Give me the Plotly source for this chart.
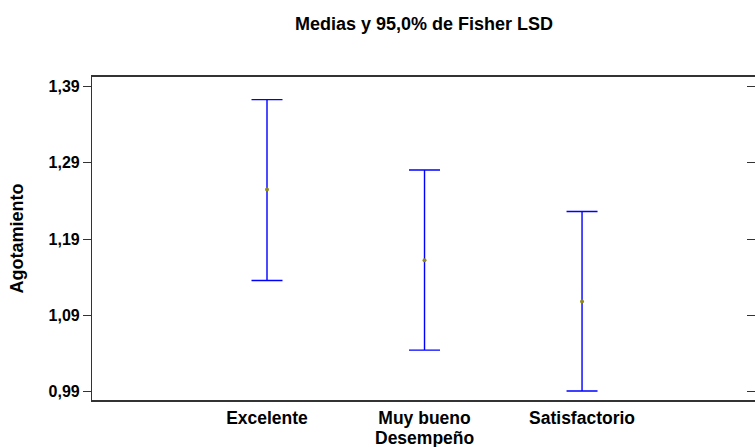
import plotly.graph_objects as go

categories = ["Excelente", "Muy bueno", "Satisfactorio"]
means = [1.2548, 1.1622, 1.1082]
lower = [1.1357, 1.0444, 0.9908]
upper = [1.3726, 1.2804, 1.2260]
y_ticks = [0.99, 1.09, 1.19, 1.29, 1.39]

title_text = "Medias y 95,0% de Fisher LSD"
x_title = "Desempeño"
y_title = "Agotamiento"

FONT = "Arial, 'Liberation Sans', sans-serif"
W, H = 755, 447
L, R, T, B = 92, 0, 77, 47
plot_h = H - T - B

err_plus = [u - m for u, m in zip(upper, means)]
err_minus = [m - l for m, l in zip(means, lower)]

fig = go.Figure()
fig.add_trace(go.Scatter(
    x=categories, y=means, mode="markers",
    marker=dict(color="#8F8A20", size=4, symbol="circle"),
    error_y=dict(type="data", symmetric=False, array=err_plus, arrayminus=err_minus,
                 color="#0000FF", thickness=1.4, width=15.5),
    showlegend=False, hoverinfo="skip",
))
# invisible trace to carry the mirrored right-side tick axis
fig.add_trace(go.Scatter(x=categories, y=means, yaxis="y2", mode="markers",
                         marker=dict(opacity=0), showlegend=False, hoverinfo="skip"))

yrange = [0.9791, 1.4022]
fig.update_layout(
    width=W, height=H,
    margin=dict(l=L, r=R, t=T, b=B, pad=0),
    paper_bgcolor="white", plot_bgcolor="white",
    separators=",.",
    font=dict(family=FONT, color="black", size=16),
    title=dict(text=title_text, x=424 / W, xref="container", xanchor="center",
               y=1 - 24 / H, yref="container", yanchor="middle",
               font=dict(family=FONT, size=18, weight="bold", color="black")),
    xaxis=dict(
        type="category", range=[-1.111, 3.098], automargin=False,
        showline=True, mirror=True, linecolor="#333333", linewidth=1.5,
        showgrid=False, zeroline=False, ticks="",
        tickfont=dict(family=FONT, size=17.5, weight="bold", color="black"),
        ticklabelstandoff=1,
    ),
    yaxis=dict(
        range=yrange, tickvals=y_ticks, tickformat=".2f", automargin=False,
        showline=True, mirror=False, linecolor="#333333", linewidth=1.2,
        ticks="outside", ticklen=8, tickwidth=1, tickcolor="#333333",
        showgrid=False, zeroline=False,
        tickfont=dict(family=FONT, size=16, weight="bold", color="black"),
        title=dict(text=y_title, standoff=20,
                   font=dict(family=FONT, size=18, weight="bold", color="black")),
    ),
    yaxis2=dict(
        range=yrange, tickvals=y_ticks, overlaying="y", side="right", automargin=False,
        showline=False, ticks="inside", ticklen=8, tickwidth=1, tickcolor="#333333",
        showticklabels=False, showgrid=False, zeroline=False,
    ),
    annotations=[dict(
        text=x_title, xref="paper", yref="paper",
        x=(424 - L) / (W - L - R), y=-(437.5 - (H - B)) / plot_h,
        xanchor="center", yanchor="middle", showarrow=False,
        font=dict(family=FONT, size=17.5, weight="bold", color="black"),
    )],
)

fig.write_html("out.html", config={"displayModeBar": False},
               post_script="document.body.style.margin='0px';document.body.style.overflow='hidden';")
